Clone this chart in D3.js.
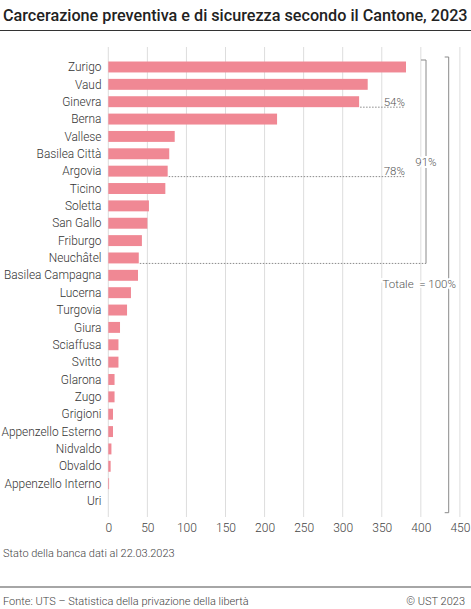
<!DOCTYPE html>
<html>
<head>
<meta charset="utf-8">
<script src="https://cdn.jsdelivr.net/npm/d3@7"></script>
<style>
  body { margin: 0; background: #fff; }
  svg { display: block; font-family: Roboto, "Open Sans", Arial, sans-serif; font-weight: 300; }
</style>
</head>
<body>
<div id="chart"></div>
<script>
// DATA
var cantons = ["Zurigo", "Vaud", "Ginevra", "Berna", "Vallese", "Basilea Città", "Argovia",
  "Ticino", "Soletta", "San Gallo", "Friburgo", "Neuchâtel", "Basilea Campagna", "Lucerna",
  "Turgovia", "Giura", "Sciaffusa", "Svitto", "Glarona", "Zugo", "Grigioni",
  "Appenzello Esterno", "Nidvaldo", "Obvaldo", "Appenzello Interno", "Uri"];
var detainees = [381, 332, 321, 216, 85, 78, 76, 73, 52, 50, 43, 39, 38, 29, 24, 15, 13, 13,
  8, 8, 6, 6, 4, 3, 1, 0];
var xTicks = [0, 50, 100, 150, 200, 250, 300, 350, 400, 450];
// cumulative markers: index of last canton included
var shareMarks = [2, 6];
var bracketMark = 11;

// COLORS
var barColor = "#f08894";
var textColor = "#333333";
var gridColor = "#dddddd";
var lineColor = "#8a8a8a";

var W = 471, H = 609;
var svg = d3.select("#chart").append("svg")
  .attr("width", W).attr("height", H);

var x = d3.scaleLinear().domain([0, 450]).range([108.3, 459.9]);
var y = d3.scaleBand().domain(cantons).range([58.3, 509.7])
  .paddingInner(0.37).paddingOuter(0.185);

var data = cantons.map(function(c, i) { return {name: c, value: detainees[i]}; });
var total = d3.sum(detainees);
var fmtPct = function(n) { return Math.round(100 * d3.sum(detainees.slice(0, n + 1)) / total) + "%"; };

// title
svg.append("text")
  .attr("x", 3).attr("y", 21)
  .attr("font-size", 16.2).attr("font-weight", 500)
  .attr("fill", "#222")
  .text("Carcerazione preventiva e di sicurezza secondo il Cantone, 2023");
svg.append("line")
  .attr("x1", 0).attr("x2", W).attr("y1", 30.5).attr("y2", 30.5)
  .attr("stroke", "#333").attr("stroke-width", 1);

// grid
svg.append("g").selectAll("line").data(xTicks).join("line")
  .attr("x1", function(d) { return x(d); }).attr("x2", function(d) { return x(d); })
  .attr("y1", 47).attr("y2", 517)
  .attr("stroke", gridColor).attr("stroke-width", 1);

// x axis labels
var xAxis = d3.axisBottom(x).tickValues(xTicks).tickSize(0).tickPadding(0);
svg.append("g").attr("transform", "translate(0,523)").call(xAxis)
  .call(function(g) { g.select(".domain").remove(); })
  .selectAll("text")
  .attr("font-size", 12).attr("fill", "#444")
  .attr("font-family", "Roboto, sans-serif").attr("font-weight", 300);

// bars
svg.append("g").selectAll("rect").data(data).join("rect")
  .attr("x", x(0))
  .attr("y", function(d) { return y(d.name); })
  .attr("width", function(d) { return x(d.value) - x(0); })
  .attr("height", y.bandwidth())
  .attr("fill", barColor);

// category labels
svg.append("g").selectAll("text").data(data).join("text")
  .attr("x", 101.5)
  .attr("y", function(d) { return y(d.name) + y.bandwidth() / 2; })
  .attr("dy", "0.35em")
  .attr("text-anchor", "end")
  .attr("font-size", 11.9).attr("fill", textColor)
  .text(function(d) { return d.name; });

// cumulative share markers
shareMarks.forEach(function(i) {
  var d = data[i];
  var yb = y(d.name) + y.bandwidth();
  svg.append("line")
    .attr("x1", x(d.value) + 1).attr("x2", 405)
    .attr("y1", yb).attr("y2", yb)
    .attr("stroke", lineColor).attr("stroke-width", 1)
    .attr("stroke-dasharray", "1.5,1.5");
  svg.append("text")
    .attr("x", 405).attr("y", y(d.name) + y.bandwidth() / 2)
    .attr("dy", "0.35em").attr("text-anchor", "end")
    .attr("font-size", 11.5).attr("fill", "#555")
    .text(fmtPct(i));
});

// 91% bracket
var bd = data[bracketMark];
var by = y(bd.name) + y.bandwidth();
var bx = 426;
svg.append("line")
  .attr("x1", x(bd.value) + 1).attr("x2", bx)
  .attr("y1", by).attr("y2", by)
  .attr("stroke", lineColor).attr("stroke-width", 1)
  .attr("stroke-dasharray", "1.5,1.5");
svg.append("path")
  .attr("d", "M" + (bx - 5) + "," + 60 + "H" + bx + "V" + by)
  .attr("fill", "none").attr("stroke", lineColor).attr("stroke-width", 1);
svg.append("text")
  .attr("x", bx).attr("y", 162).attr("dy", "0.35em")
  .attr("text-anchor", "middle")
  .attr("font-size", 11.5).attr("fill", "#555")
  .attr("stroke", "#fff").attr("stroke-width", 4).attr("paint-order", "stroke")
  .text(fmtPct(bracketMark));

// total bracket
var tx = 448.7;
svg.append("path")
  .attr("d", "M" + (tx - 4) + ",57H" + tx + "V512.7H" + (tx - 4))
  .attr("fill", "none").attr("stroke", lineColor).attr("stroke-width", 1);
svg.append("text")
  .attr("x", 456).attr("y", 284).attr("dy", "0.35em")
  .attr("text-anchor", "end")
  .attr("font-size", 11.5).attr("fill", "#555")
  .attr("stroke", "#fff").attr("stroke-width", 4).attr("paint-order", "stroke")
  .attr("xml:space", "preserve")
  .text("Totale  = " + Math.round(100 * total / total) + "%");

// notes and footer
svg.append("text")
  .attr("x", 3).attr("y", 553).attr("dy", "0.35em")
  .attr("font-size", 11).attr("fill", "#444")
  .text("Stato della banca dati al 22.03.2023");
svg.append("line")
  .attr("x1", 0).attr("x2", W).attr("y1", 587).attr("y2", 587)
  .attr("stroke", "#888").attr("stroke-width", 1.5);
svg.append("text")
  .attr("x", 3).attr("y", 601).attr("dy", "0.35em")
  .attr("font-size", 11).attr("fill", "#444")
  .text("Fonte: UTS – Statistica della privazione della libertà");
svg.append("text")
  .attr("x", 465).attr("y", 601).attr("dy", "0.35em")
  .attr("text-anchor", "end")
  .attr("font-size", 11).attr("fill", "#444")
  .text("© UST 2023");
</script>
</body>
</html>
